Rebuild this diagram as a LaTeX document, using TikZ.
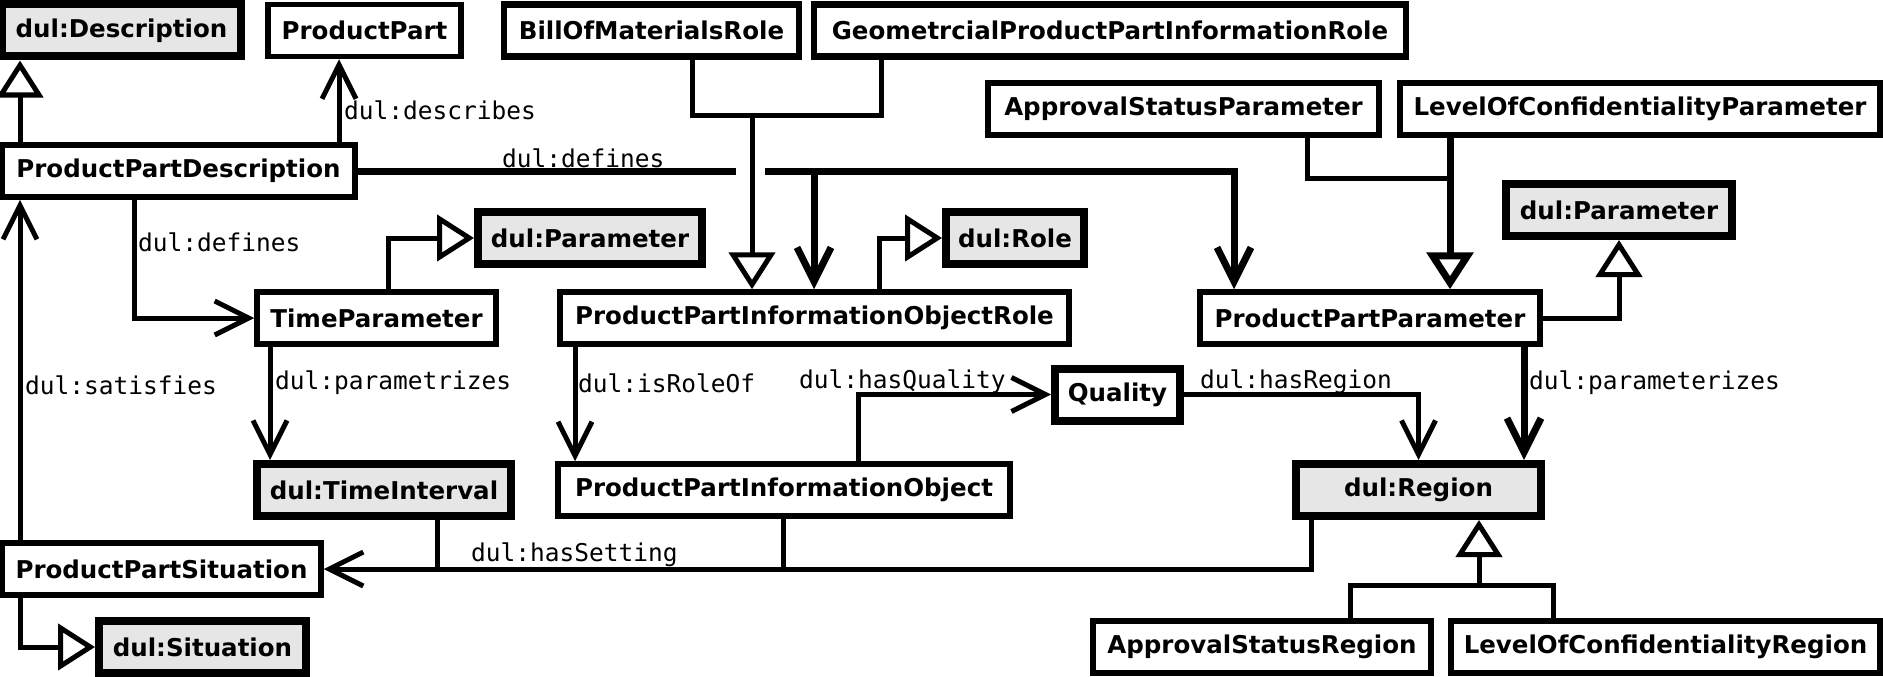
\documentclass[tikz,border=0pt]{standalone}
\usepackage{fontspec}
\setmainfont{DejaVu Sans}
\newfontfamily\monof{DejaVu Sans Mono}
\usetikzlibrary{arrows.meta}
\definecolor{grayfill}{HTML}{E6E6E6}
\tikzset{
  box/.style={draw=black, line width=5.5pt, fill=white, minimum height=52pt, inner sep=0pt, font=\fontsize{24.5}{28}\selectfont\bfseries},
  dulbox/.style={box, fill=grayfill, line width=8pt},
  extbox/.style={box, line width=6.5pt},
  bw/.style={minimum width=#1pt},
  conn/.style={line width=5pt, line cap=butt, line join=miter},
  thickconn/.style={line width=7pt, line cap=butt, line join=miter},
  assoc/.style={-{Straight Barb[length=34pt, width=34pt]}},
  gen/.style={-{Triangle[open, length=37pt, width=46pt]}},
  lbl/.style={anchor=west, inner sep=0pt, font=\monof\fontsize{24.5}{28}\selectfont}
}
\begin{document}
\begin{tikzpicture}[x=1pt, y=-1pt]
\useasboundingbox (0,0) rectangle (1883,677);
% nodes
\node[dulbox, bw=239] (desc) at (121.5,30.5) {dul:Description};
\node[box, bw=193] (pp) at (364.5,30.5) {ProductPart};
\node[extbox, bw=295] (bom) at (651.5,30.5) {BillOfMaterialsRole};
\node[extbox, bw=592] (geom) at (1110,30.5) {GeometrcialProductPartInformationRole};
\node[extbox, bw=391] (asp) at (1183.5,109) {ApprovalStatusParameter};
\node[extbox, bw=480] (lcp) at (1640,109) {LevelOfConfidentialityParameter};
\node[box, bw=353] (ppd) at (178.5,171) {ProductPartDescription};
\node[dulbox, bw=224] (par1) at (590,238) {dul:Parameter};
\node[dulbox, bw=138] (role) at (1015,238) {dul:Role};
\node[dulbox, bw=226] (par2) at (1619,210) {dul:Parameter};
\node[box, bw=239] (tp) at (376.5,318) {TimeParameter};
\node[box, bw=509] (ppior) at (814.5,318) {ProductPartInformationObjectRole};
\node[box, bw=340] (ppp) at (1370,318) {ProductPartParameter};
\node[dulbox, fill=white, bw=125] (quality) at (1117.5,394.5) {Quality};
\node[dulbox, bw=254] (ti) at (384,490) {dul:TimeInterval};
\node[box, bw=452] (ppio) at (784,490) {ProductPartInformationObject};
\node[dulbox, bw=245] (region) at (1418.5,490) {dul:Region};
\node[box, bw=319] (pps) at (161.5,569) {ProductPartSituation};
\node[dulbox, bw=207] (sit) at (202.5,647) {dul:Situation};
\node[extbox, bw=338] (asr) at (1262,647) {ApprovalStatusRegion};
\node[extbox, bw=429] (lcr) at (1665.5,647) {LevelOfConfidentialityRegion};
% labels
\node[lbl] (ldescribes) at (344,110) {dul:describes};
\node[lbl] (ldefines1) at (502,158) {dul:defines};
\node[lbl] (ldefines2) at (138,242) {dul:defines};
\node[lbl] (lsatisfies) at (25,385) {dul:satisfies};
\node[lbl] (lparametrizes) at (275,383) {dul:parametrizes};
\node[lbl] (lisroleof) at (578,383) {dul:isRoleOf};
\node[lbl] (lhasquality) at (799,382) {dul:hasQuality};
\node[lbl] (lhasregion) at (1200,382) {dul:hasRegion};
\node[lbl] (lparameterizes) at (1529,383) {dul:parameterizes};
\node[lbl] (lhassetting) at (471,555) {dul:hasSetting};
% junction coordinates
\coordinate (gapL) at (736,171);
\coordinate (gapR) at (765,171);
\coordinate (defR) at (1234,171);
\coordinate (defB) at (814,171);
\coordinate (bgJ) at (752,115);
\coordinate (apJ) at (1450,178);
\coordinate (regJ) at (1479,585);
% connectors
\draw[conn, gen] (ppd.north -| 20,0) -- (desc.south -| 20,0);
\draw[conn, assoc] (ppd.north -| 339,0) -- (pp.south -| 339,0);
\draw[thickconn] (ppd.east) -- (gapL);
\draw[thickconn, assoc] (gapR) -- (defR) -- (ppp.north -| defR);
\draw[thickconn, assoc] (defB) -- (ppior.north -| defB);
\draw[conn] (bom.south -| 692,0) |- (bgJ) -| (geom.south -| 881,0);
\draw[conn, gen] (bgJ) -- (ppior.north -| bgJ);
\draw[conn, assoc] (ppd.south -| 134,0) |- (tp.west);
\draw[conn, gen] (tp.north -| 388,0) |- (par1.west);
\draw[conn, gen] (ppior.north -| 879,0) |- (role.west);
\draw[conn] (asp.south -| 1307,0) |- (apJ);
\draw[thickconn, gen] (lcp.south -| apJ) -- (ppp.north -| apJ);
\draw[conn, gen] (ppp.east) -| (par2.south);
\draw[conn, assoc] (tp.south -| 270,0) -- (ti.north -| 270,0);
\draw[conn, assoc] (ppior.south -| 575,0) -- (ppio.north -| 575,0);
\draw[conn, assoc] (ppio.north -| 858,0) |- (quality.west);
\draw[conn, assoc] (quality.east) -| (region.north);
\draw[thickconn, assoc] (ppp.south -| 1524,0) -- (region.north -| 1524,0);
\draw[conn, assoc] (region.south -| 1311,0) |- (pps.east);
\draw[conn] (ti.south -| 437,0) -- (pps.east -| 437,0);
\draw[conn] (ppio.south -| 783,0) -- (pps.east -| 783,0);
\draw[conn, assoc] (pps.north -| 20,0) -- (ppd.south -| 20,0);
\draw[conn, gen] (pps.south -| 20,0) |- (sit.west);
\draw[conn] (asr.north -| 1350,0) |- (regJ) -| (lcr.north -| 1553,0);
\draw[conn, gen] (regJ) -- (region.south -| regJ);
\end{tikzpicture}
\end{document}
